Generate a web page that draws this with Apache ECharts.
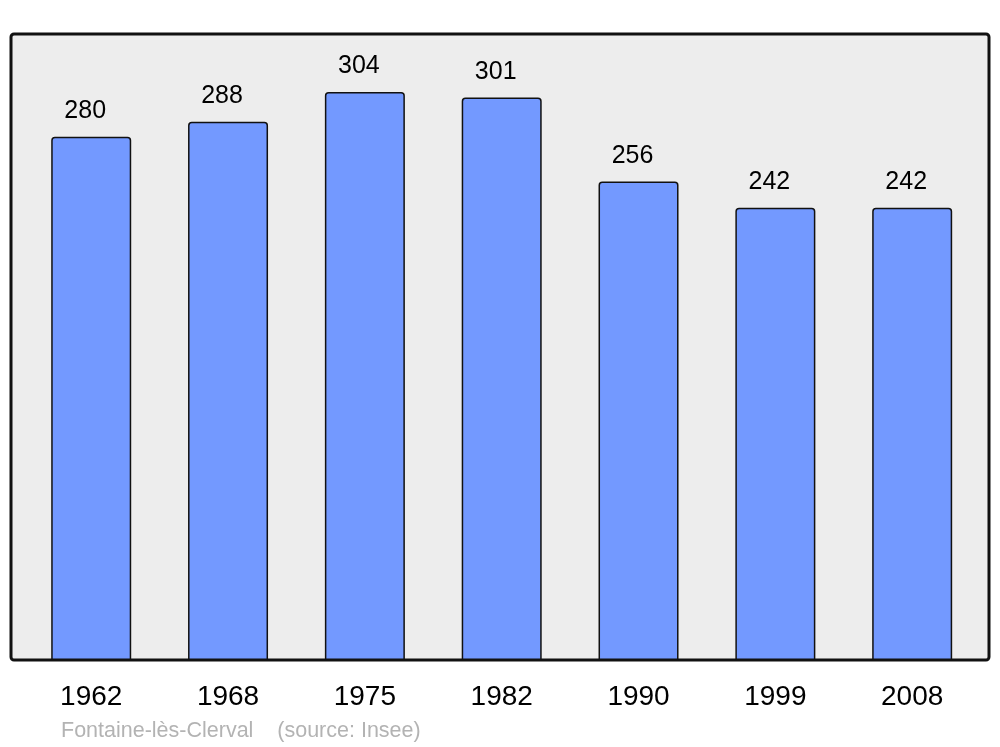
<!DOCTYPE html>
<html>
<head>
<meta charset="utf-8">
<script src="https://cdn.jsdelivr.net/npm/echarts@6/dist/echarts.min.js"></script>
<style>html,body{margin:0;padding:0;background:#fff}#c{width:1000px;height:747px}</style>
</head>
<body>
<div id="c"></div>
<script>
const years = ['1962', '1968', '1975', '1982', '1990', '1999', '2008'];
const population = [280, 288, 304, 301, 256, 242, 242];
const footerText = 'Fontaine-lès-Clerval    (source: Insee)';

const chart = echarts.init(document.getElementById('c'), null, {renderer: 'canvas'});
chart.setOption({
  animation: false,
  backgroundColor: '#ffffff',
  textStyle: {fontFamily: 'Liberation Sans, Arial, sans-serif'},
  graphic: [
    {type: 'rect', z: -10, shape: {x: 11, y: 34, width: 978, height: 626, r: 3},
     style: {fill: '#ededed', stroke: '#111111', lineWidth: 3}},
    {type: 'text', left: 61, top: 720,
     style: {text: footerText, fill: '#b3b3b3', font: '21.5px "Liberation Sans", Arial, sans-serif'}}
  ],
  grid: {left: 22.8, right: 19.4, top: 34, bottom: 87},
  xAxis: {
    type: 'category', data: years,
    axisLine: {show: false}, axisTick: {show: false}, splitLine: {show: false},
    axisLabel: {color: '#000', fontSize: 28, lineHeight: 28, margin: 23, fontFamily: 'Liberation Sans, Arial, sans-serif'}
  },
  yAxis: {type: 'value', min: 0, max: 335, show: false, splitLine: {show: false}},
  series: [{
    type: 'bar', data: population, barWidth: 80,
    itemStyle: {color: '#7399ff', borderColor: '#111111', borderWidth: 1.5, borderRadius: [3, 3, 0, 0]},
    label: {show: true, position: 'top', distance: 13, offset: [-6, 0], color: '#000', fontSize: 25, lineHeight: 25,
            fontFamily: 'Liberation Sans, Arial, sans-serif'}
  }]
});
</script>
</body>
</html>
